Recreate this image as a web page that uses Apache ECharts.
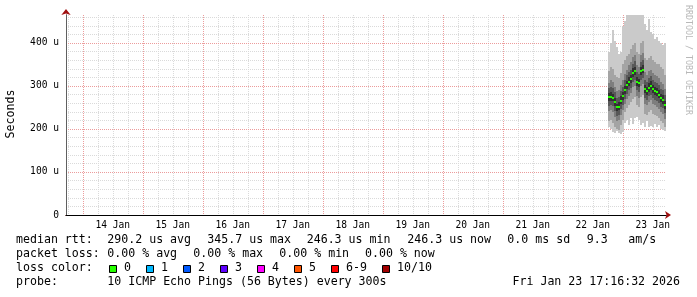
<!DOCTYPE html>
<html>
<head>
<meta charset="utf-8">
<script src="https://cdn.jsdelivr.net/npm/echarts@6/dist/echarts.min.js"></script>
<style>
html,body{margin:0;padding:0;background:#fff;}
#chart{width:697px;height:297px;}
</style>
</head>
<body>
<div id="chart"></div>
<script>
// ---- data ----
// x in day-of-month (January 2026); window: 13 Jan 17:16:32 .. 23 Jan 17:16:32
const X_MIN = 13 + (17 + 16/60 + 32/3600) / 24;
const X_MAX = 23 + (17 + 16/60 + 32/3600) / 24;
const START = 22.745;           // first column (22 Jan ~17:53)
const STEP = 1 / 30;            // 48 minutes per column
const yTicks = [0, 100, 200, 300, 400];
const dayLabels = ['14 Jan','15 Jan','16 Jan','17 Jan','18 Jan','19 Jan','20 Jan','21 Jan','22 Jan','23 Jan'];

// RTT values in microseconds
const median = [274,275,273,262,250,252,266,276,290,302,310,316,330,334,310,306,334,338,292,288,296,300,292,288,285,280,272,268,256,246];
const pMax  = [380,400,430,405,390,375,380,440,450,465,465,465,465,465,465,465,465,465,445,430,455,425,420,410,415,405,400,395,400,330];
const pMin  = [205,200,192,190,195,190,188,193,215,222,210,226,212,225,228,222,210,215,205,218,205,208,205,212,204,210,200,197,195,198];
const b2Hi  = [335,345,340,325,320,318,330,350,360,370,375,385,395,400,380,375,400,405,365,360,365,370,360,355,350,350,345,340,325,300];
const b2Lo  = [218,222,215,205,200,198,210,222,240,248,255,262,270,275,255,250,275,280,235,232,240,245,235,232,230,225,218,214,205,200];
const b3Hi  = [308,314,310,298,288,290,303,315,328,338,348,355,368,372,348,343,372,376,332,326,334,338,330,326,323,318,309,305,293,280];
const b3Lo  = [242,244,240,229,219,221,233,243,257,269,277,283,297,301,277,273,301,305,259,255,263,267,259,255,252,247,239,235,223,217];
const b4Hi  = [296,298,295,285,272,275,288,298,313,325,333,338,352,357,333,328,356,360,315,310,318,323,314,310,307,302,294,290,278,268];
const b4Lo  = [254,255,253,242,230,232,246,256,270,282,290,296,310,314,290,286,314,318,272,268,276,280,272,268,265,260,252,248,236,226];
const b5Hi  = [284,286,282,272,259,263,276,287,300,312,321,326,341,343,320,317,345,348,302,298,306,311,302,298,295,290,282,278,266,256];
const b5Lo  = [265,266,264,253,241,243,257,267,281,293,301,307,321,325,301,297,325,329,283,279,287,291,283,279,276,271,263,259,247,237];

const lossLabels = ['0','1','2','3','4','5','6-9','10/10'];
const lossColors = ['#26ff00','#00b8ff','#0059ff','#5e00ff','#ff00ff','#ff5500','#ff0000','#a10000'];

const legendRows = [
  [['median rtt:',16],['290.2 us avg',107.3],['345.7 us max',207.3],['246.3 us min',306.7],['246.3 us now',407.3],['0.0 ms sd',507.3],['9.3',586.7],['am/s',628.3]],
  [['packet loss:',16],['0.00 % avg',107.3],['0.00 % max',193.3],['0.00 % min',279.3],['0.00 % now',365]],
  [['loss color:',16]],
  [['probe:',16],['10 ICMP Echo Pings (56 Bytes) every 300s',107.3]]
];
const stamp = 'Fri Jan 23 17:16:32 2026';

// ---- chart ----
const MONO = '"DejaVu Sans Mono", monospace';
const times = median.map((_, i) => START + i * STEP);
const chart = echarts.init(document.getElementById('chart'), null, {renderer: 'canvas'});

function band(lo, hi, color) {
  return {
    type: 'custom', xAxisIndex: 0, yAxisIndex: 0, clip: true, silent: true,
    data: times.map((t, i) => [t, lo[i], hi[i]]),
    encode: {x: 0, y: [1, 2]},
    renderItem(params, api) {
      const t = api.value(0);
      const a = api.coord([t, api.value(2)]);
      const b = api.coord([t + STEP, api.value(1)]);
      const x0 = Math.round(a[0]), x1 = Math.round(b[0]);
      const y0 = Math.round(a[1]), y1 = Math.round(b[1]);
      return {type: 'rect', shape: {x: x0, y: y0, width: x1 - x0, height: y1 - y0}, style: {fill: color}};
    }
  };
}
const medianSeries = {
  type: 'custom', xAxisIndex: 0, yAxisIndex: 0, clip: true, silent: true, z: 3,
  data: times.map((t, i) => [t, median[i]]),
  encode: {x: 0, y: 1},
  renderItem(params, api) {
    const t = api.value(0);
    const a = api.coord([t, api.value(1)]);
    const b = api.coord([t + STEP, api.value(1)]);
    const x0 = Math.round(a[0]), x1 = Math.round(b[0]);
    return {type: 'rect', shape: {x: x0, y: Math.round(a[1]) - 1, width: x1 - x0, height: 2}, style: {fill: lossColors[0]}};
  }
};

const graphics = [];
legendRows.forEach((row, r) => {
  row.forEach(([txt, x]) => {
    graphics.push({type: 'text', left: x, top: 241 + r * 14 - 7.5, silent: true,
      style: {text: txt, font: '11.6px ' + MONO, fill: '#000'}});
  });
});
// loss colour legend
let bx = 108.5;
lossLabels.forEach((lab, i) => {
  graphics.push({type: 'rect', shape: {x: Math.round(bx) + 0.5, y: 265.5, width: 7, height: 7}, silent: true,
    style: {fill: lossColors[i], stroke: '#000', lineWidth: 1}});
  graphics.push({type: 'text', left: bx + 15.5, top: 269 - 7.5, silent: true,
    style: {text: lab, font: '11.6px ' + MONO, fill: '#000'}});
  bx += 37 + (lab.length - 1) * 7;
});
graphics.push({type: 'text', right: 17, top: 283.5 - 7.5, silent: true,
  style: {text: stamp, font: '11.6px ' + MONO, fill: '#000'}});
graphics.push({type: 'text', x: 10.5, y: 114, rotation: Math.PI / 2, silent: true,
  style: {text: 'Seconds', font: '11.6px ' + MONO, fill: '#000', align: 'center', verticalAlign: 'middle'}});
graphics.push({type: 'text', x: 688, y: 60, rotation: -Math.PI / 2, silent: true,
  style: {text: 'RRDTOOL / TOBI OETIKER', font: '8.3px ' + MONO, fill: '#b8b8b8', align: 'center', verticalAlign: 'middle'}});

const dotted = [1, 1];
const minorGrid = {show: true, showMinLine: false, showMaxLine: false, lineStyle: {color: '#dadada', width: 1, type: dotted}};
const majorGrid = {show: true, showMinLine: false, showMaxLine: false, lineStyle: {color: '#ec9c9c', width: 1, type: dotted}};
const off = {show: false};

const option = {
  animation: false,
  backgroundColor: '#fff',
  grid: {left: 66, width: 600, top: 15, height: 200, containLabel: false},
  xAxis: [
    {type: 'value', position: 'bottom', min: X_MIN, max: X_MAX, minInterval: 0.25, maxInterval: 0.25, splitNumber: 40,
     axisLabel: off, axisTick: off, axisLine: off, splitLine: minorGrid, z: 0},
    {type: 'value', position: 'bottom', min: X_MIN, max: X_MAX, minInterval: 1, maxInterval: 1, splitNumber: 10,
     axisLabel: off, axisTick: off, axisLine: off, splitLine: majorGrid, z: 1},
    {type: 'value', position: 'bottom', min: X_MIN - 0.5, max: X_MAX - 0.5, minInterval: 1, maxInterval: 1, splitNumber: 10,
     axisTick: off, splitLine: off, z: 3,
     axisLine: {show: true, onZero: false, symbol: ['none', 'arrow'], symbolSize: [6, 6], symbolOffset: [0, 5],
                lineStyle: {color: '#a01010', width: 1}},
     axisLabel: {show: true, margin: 5, fontFamily: MONO, fontSize: 9.6, color: '#000',
                 showMinLabel: false, showMaxLabel: false,
                 formatter: v => Math.abs(v - Math.round(v)) < 1e-6 ? (dayLabels[Math.round(v) - 14] || '') : ''}},
    {type: 'value', position: 'bottom', min: X_MIN, max: X_MAX, axisLabel: off, axisTick: off, splitLine: off, z: 4,
     axisLine: {show: true, onZero: false, lineStyle: {color: '#000', width: 1}}}
  ],
  yAxis: [
    {type: 'value', position: 'left', min: 0, max: 465, interval: 20, axisLabel: off, axisTick: off, axisLine: off, splitLine: minorGrid, z: 0},
    {type: 'value', position: 'left', min: 0, max: 465, interval: 100, axisLabel: off, axisTick: off, axisLine: off, splitLine: majorGrid, z: 1},
    {type: 'value', position: 'left', min: 0, max: 465, interval: 100, axisTick: off, splitLine: off, z: 3,
     axisLine: {show: true, onZero: false, symbol: ['none', 'arrow'], symbolSize: [7, 6], symbolOffset: [0, 6],
                lineStyle: {color: '#a01010', width: 1}},
     axisLabel: {show: true, margin: 7, fontFamily: MONO, fontSize: 9.6, color: '#000', showMaxLabel: false,
                 formatter: v => yTicks.includes(v) ? (v === 0 ? '0' : v + ' u') : ''}},
    {type: 'value', position: 'left', min: 0, max: 465, axisLabel: off, axisTick: off, splitLine: off, z: 4,
     axisLine: {show: true, onZero: false, lineStyle: {color: '#606060', width: 1}}}
  ],
  series: [
    band(pMin, pMax, '#cacaca'),
    band(b2Lo, b2Hi, '#a4a4a4'),
    band(b3Lo, b3Hi, '#7e7e7e'),
    band(b4Lo, b4Hi, '#585858'),
    band(b5Lo, b5Hi, '#323232'),
    medianSeries
  ],
  graphic: graphics
};
chart.setOption(option);
</script>
</body>
</html>
